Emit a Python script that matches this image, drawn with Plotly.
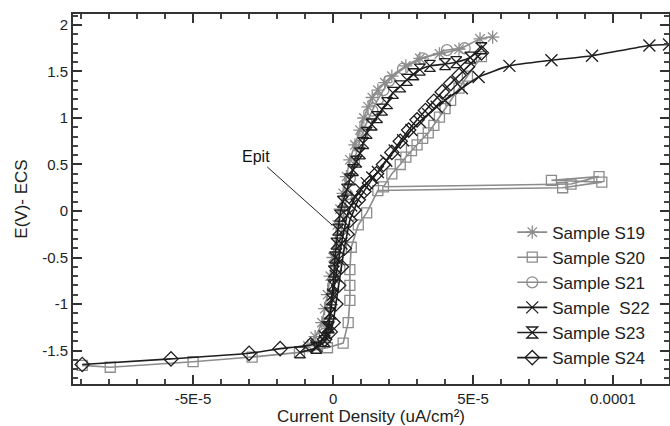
import plotly.graph_objects as go

# ---------------- data ----------------
s19_x = [-9e-6, -6.4e-6, -4e-6, -3e-6, -2e-6, -1e-6, 0, 1.5e-6, 2.5e-6, 3.6e-6, 4.8e-6, 6e-6,
         7.8e-6, 9.6e-6, 1.1e-5, 1.25e-5, 1.4e-5, 1.6e-5, 1.85e-5, 2.1e-5, 2.6e-5, 3.1e-5,
         3.8e-5, 4.5e-5, 5.25e-5, 5.7e-5]
s19_y = [-1.45, -1.35, -1.2, -1.05, -0.9, -0.7, -0.5, -0.15, 0.02, 0.19, 0.37, 0.55,
         0.71, 0.87, 1.0, 1.12, 1.22, 1.3, 1.38, 1.45, 1.56, 1.64,
         1.69, 1.74, 1.85, 1.87]

s20_x = [-8.96e-5, -7.96e-5, -5e-5, -2.89e-5, -1.2e-5, -2e-6, 3.6e-6, 5.4e-6, 6e-6, 6e-6,
         6e-6, 6.5e-6, 9e-6, 1.2e-5, 1.6e-5, 8.2e-5, 9.6e-5, 7.8e-5, 9.5e-5, 8.5e-5,
         1.8e-5, 2.1e-5, 2.4e-5, 2.6e-5, 2.8e-5, 3.0e-5, 3.2e-5, 3.4e-5, 3.6e-5, 3.8e-5,
         4.0e-5, 4.2e-5, 4.5e-5, 4.8e-5, 5.3e-5]
s20_y = [-1.66, -1.68, -1.62, -1.57, -1.52, -1.47, -1.42, -1.2, -0.96, -0.8,
         -0.63, -0.39, -0.15, -0.02, 0.22, 0.25, 0.31, 0.33, 0.37, 0.29,
         0.26, 0.4, 0.5, 0.58, 0.65, 0.71, 0.78, 0.84, 0.92, 1.01,
         1.1, 1.19, 1.32, 1.45, 1.66]

s21_x = [-4e-6, -3e-6, -2e-6, -1e-6, 0, 1e-6, 2e-6, 3e-6, 4e-6, 5e-6, 6e-6, 7.5e-6, 9e-6,
         1.05e-5, 1.2e-5, 1.4e-5, 1.6e-5, 1.8e-5, 2e-5, 2.5e-5, 3.2e-5, 4.07e-5, 4.7e-5]
s21_y = [-1.42, -1.32, -1.2, -1.0, -0.8, -0.6, -0.4, -0.2, 0, 0.18, 0.35, 0.53, 0.7,
         0.83, 0.95, 1.08, 1.2, 1.3, 1.4, 1.53, 1.64, 1.73, 1.75]

s22_x = [-6e-6, -3e-6, -2e-6, -1e-6, 0, 1e-6, 2e-6, 3e-6, 4e-6, 5e-6, 6.5e-6, 8e-6, 1.0e-5,
         1.2e-5, 1.4e-5, 1.6e-5, 1.9e-5, 2.2e-5, 2.5e-5, 2.8e-5, 3.1e-5, 3.4e-5, 3.7e-5,
         4.0e-5, 4.6e-5, 5.2e-5, 6.3e-5, 7.8e-5, 9.25e-5, 1.13e-4, 1.2e-4]
s22_y = [-1.45, -1.35, -1.25, -1.1, -0.9, -0.7, -0.52, -0.35, -0.2, -0.05, 0.06, 0.15, 0.23,
         0.3, 0.36, 0.42, 0.54, 0.65, 0.76, 0.87, 0.96, 1.04, 1.12,
         1.19, 1.32, 1.44, 1.56, 1.62, 1.67, 1.78, 1.79]

s23_x = [-1.18e-5, -6e-6, -3e-6, -1.5e-6, -1e-6, -5e-7, 0, 3e-7, 7e-7, 1.2e-6, 1.8e-6,
         2.5e-6, 3.5e-6, 5e-6, 6e-6, 7.1e-6, 8.3e-6, 9.6e-6, 1.08e-5, 1.2e-5, 1.38e-5,
         1.57e-5, 1.75e-5, 1.93e-5, 2.14e-5, 2.4e-5, 2.64e-5, 2.87e-5, 3.1e-5, 3.46e-5,
         4.0e-5, 4.4e-5, 4.9e-5, 5.3e-5]
s23_y = [-1.52, -1.47, -1.4, -1.25, -1.1, -0.95, -0.8, -0.65, -0.5, -0.35, -0.2,
         -0.05, 0.1, 0.23, 0.34, 0.44, 0.53, 0.62, 0.73, 0.84, 0.93,
         1.01, 1.09, 1.16, 1.27, 1.34, 1.41, 1.47, 1.52, 1.56,
         1.58, 1.6, 1.65, 1.75]

s24_x = [-8.96e-5, -5.79e-5, -3e-5, -1.89e-5, -8e-6, -3e-6, -1e-6, 0, 1e-6, 2e-6, 3e-6,
         4e-6, 5e-6, 6e-6, 7.5e-6, 9e-6, 1.1e-5, 1.3e-5, 1.55e-5, 1.8e-5, 2.1e-5, 2.4e-5,
         2.7e-5, 3e-5, 3.3e-5, 3.6e-5, 3.9e-5, 4.2e-5, 4.5e-5, 4.8e-5, 5.3e-5]
s24_y = [-1.65, -1.59, -1.53, -1.48, -1.44, -1.38, -1.3, -1.2, -1.0, -0.8, -0.6,
         -0.4, -0.25, -0.1, 0.01, 0.12, 0.21, 0.3, 0.4, 0.5, 0.63, 0.75,
         0.87, 0.98, 1.08, 1.18, 1.28, 1.37, 1.46, 1.55, 1.7]

series_names = ["Sample S19", "Sample S20", "Sample S21", "Sample  S22", "Sample S23", "Sample S24"]

x_tick_vals = [-5e-5, 0, 5e-5, 1e-4]
x_tick_text = ["-5E-5", "0", "5E-5", "0.0001"]
y_tick_vals = [-1.5, -1, -0.5, 0, 0.5, 1, 1.5, 2]
y_tick_text = ["-1.5", "-1", "-0.5", "0", "0.5", "1", "1.5", "2"]

x_range = [-9.29e-5, 1.2e-4]
y_range = [-1.86, 2.118]

# ---------------- figure ----------------
GRAY = "#8c8c8c"
BLACK = "#1e1e1e"
FONT = "Liberation Sans, Arial"
styles = [
    (s19_x, s19_y, GRAY, "asterisk-open", 11, "spline"),
    (s20_x, s20_y, GRAY, "square-open", 10, "linear"),
    (s21_x, s21_y, GRAY, "circle-open", 11, "spline"),
    (s22_x, s22_y, BLACK, "x-thin-open", 12, "spline"),
    (s23_x, s23_y, BLACK, "hourglass-open", 11, "spline"),
    (s24_x, s24_y, BLACK, "diamond-open", 11, "spline"),
]

fig = go.Figure()
for (xs, ys, col, sym, sz, shp), name in zip(styles, series_names):
    fig.add_trace(go.Scatter(
        x=xs, y=ys, name=name, mode="lines+markers",
        line=dict(color=col, width=1.6, shape=shp, smoothing=0.5),
        marker=dict(symbol=sym, size=sz, color=col, line=dict(color=col, width=1.3)),
    ))

fig.add_annotation(
    x=-3.6e-7, y=-0.15, xref="x", yref="y",
    text="Epit", showarrow=True, arrowhead=0, arrowwidth=1, arrowcolor="#222",
    ax=-76, ay=-68, font=dict(family=FONT, size=16, color="#111"),
)

axis_common = dict(
    showline=True, linecolor="#333", linewidth=2, mirror="ticks",
    ticks="inside", ticklen=9, tickwidth=1.5, tickcolor="#333",
    showgrid=False, zeroline=False,
    tickfont=dict(family=FONT, size=15, color="#222"),
    title_font=dict(family=FONT, size=17, color="#222"),
)

fig.update_xaxes(
    range=x_range, tickmode="array", tickvals=x_tick_vals, ticktext=x_tick_text,
    minor=dict(dtick=1e-5, tick0=0, ticks="inside", ticklen=5, tickcolor="#444"),
    title_text="Current Density (uA/cm²)", title_standoff=3, automargin=False,
    **axis_common,
)
fig.update_yaxes(
    range=y_range, tickmode="array", tickvals=y_tick_vals, ticktext=y_tick_text,
    minor=dict(dtick=0.1, tick0=0, ticks="inside", ticklen=5, tickcolor="#444"),
    title_text="E(V)- ECS", title_standoff=10, automargin=False,
    **axis_common,
)

fig.update_layout(
    width=670, height=426,
    margin=dict(l=73, r=1, t=14, b=42),
    paper_bgcolor="white", plot_bgcolor="white",
    showlegend=True,
    legend=dict(
        x=0.737, y=0.458, xanchor="left", yanchor="top",
        bgcolor="rgba(0,0,0,0)",
        font=dict(family=FONT, size=17, color="#222"),
        tracegroupgap=0,
    ),
)

fig.write_html("out.html")
